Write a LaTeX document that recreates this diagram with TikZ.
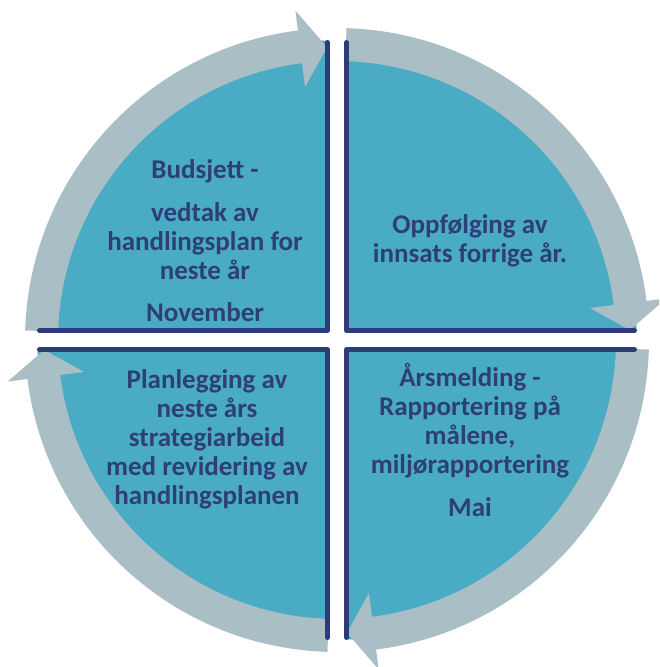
\documentclass[tikz,border=0pt]{standalone}
\usepackage{fontspec}
\setmainfont{Carlito}
\usetikzlibrary{calc}
\definecolor{teal1}{RGB}{74,171,197}
\definecolor{ringc}{RGB}{170,190,198}
\definecolor{navy1}{RGB}{44,60,120}
\definecolor{txt}{RGB}{46,62,118}
\begin{document}
\begin{tikzpicture}[x=1pt,y=1pt,
  quad/.style={fill=teal1},
  edgeline/.style={draw=navy1,line width=5pt,line cap=round,line join=round},
  arrowseg/.style={fill=ringc},
  lbl/.style={text=txt,font=\fontsize{27}{29}\selectfont\bfseries,align=center}]
\useasboundingbox (-337,-327) rectangle (322,340);
\clip (-337,-327) rectangle (322,340);
\coordinate (cTL) at (-9.5,9.5);
\coordinate (cTR) at (9.5,9.5);
\coordinate (cBR) at (9.5,-9.5);
\coordinate (cBL) at (-9.5,-9.5);
% quadrant fills
\fill[quad] (cTL) -- ++(0,290) arc[start angle=90,end angle=180,radius=290] -- cycle;
\fill[quad] (cTR) -- ++(290,0) arc[start angle=0,end angle=90,radius=290] -- cycle;
\fill[quad] (cBR) -- ++(0,-290) arc[start angle=-90,end angle=0,radius=290] -- cycle;
\fill[quad] (cBL) -- ++(-290,0) arc[start angle=180,end angle=270,radius=290] -- cycle;
% circular arrow segments
\foreach \b in {90,0,-90,-180}{
  \fill[arrowseg] ({\b-1.75}:279) arc[start angle=\b-1.75,end angle=\b-82.8,radius=279]
    -- ({\b-82.8}:255) -- ({\b-88.05}:293) -- ({\b-82.8}:332) -- ({\b-82.8}:312)
    arc[start angle=\b-82.8,end angle=\b-1.75,radius=312] -- cycle;
}
% quadrant edges
\draw[edgeline] ($(cTL)+(0,288)$) -- (cTL) -- ($(cTL)+(-288,0)$);
\draw[edgeline] ($(cTR)+(0,288)$) -- (cTR) -- ($(cTR)+(288,0)$);
\draw[edgeline] ($(cBR)+(0,-288)$) -- (cBR) -- ($(cBR)+(288,0)$);
\draw[edgeline] ($(cBL)+(0,-288)$) -- (cBL) -- ($(cBL)+(-288,0)$);
% labels
\node[lbl] (tl) at (-132,99) {Budsjett -\\[14pt]vedtak av\\handlingsplan for\\neste år\\[13pt]November};
\node[lbl] (tr) at (133,99) {Oppfølging av\\innsats forrige år.};
\node[lbl] (br) at (133,-100) {Årsmelding -\\Rapportering på\\målene,\\miljørapportering\\[14pt]Mai};
\node[lbl] (bl) at (-130,-99) {Planlegging av\\neste års\\strategiarbeid\\med revidering av\\handlingsplanen};
\end{tikzpicture}
\end{document}
